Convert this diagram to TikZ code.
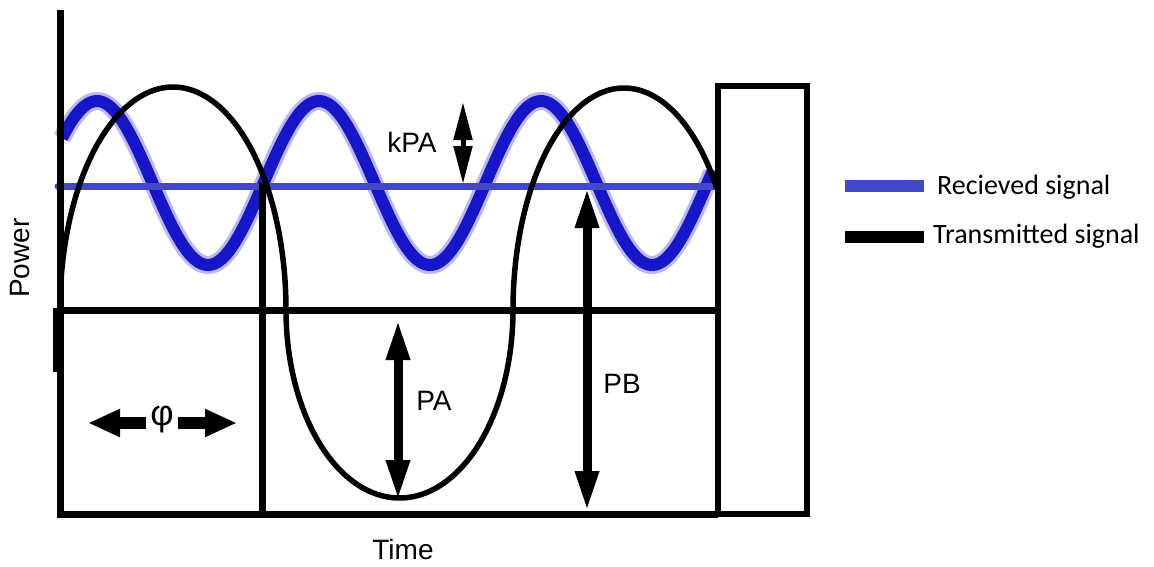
\documentclass[tikz,border=0pt]{standalone}
\usepackage{fontspec}
\setmainfont{Liberation Sans}
\newfontfamily\legendfont{Carlito}
\usetikzlibrary{arrows.meta}
\definecolor{sigblue}{RGB}{22,22,200}
\definecolor{lineblue}{RGB}{66,72,200}
\begin{document}
\begin{tikzpicture}[x=1pt,y=-1pt,
  frame/.style={line width=7pt},
  curve/.style={line width=5.5pt, line join=round},
  lbl/.style={font=\fontsize{28}{28}\selectfont, inner sep=0pt},
  legtext/.style={font=\legendfont\fontsize{28}{28}\selectfont, inner sep=0pt, anchor=west},
  bigarrow/.style={line width=9pt, {Triangle[length=40pt,width=22pt]}-{Triangle[length=40pt,width=22pt]}},
  smallarrow/.style={line width=5pt, {Triangle[length=38pt,width=18pt]}-{Triangle[length=38pt,width=18pt]}},
  phiarrow/.style={line width=12pt, -{Triangle[length=32pt,width=26pt]}}]
\useasboundingbox (0,0) rectangle (1154,566);

% received signal (blue sine)
\draw[sigblue, opacity=0.3, line width=18pt] plot[domain=62:712, samples=250] (\x,{183-82*cos(1.62162*(\x-97))});
\draw[sigblue, line width=12pt] plot[domain=62:713, samples=250] (\x,{183-82*cos(1.62162*(\x-97))});
% mean line
\draw[lineblue, line width=7pt, line cap=round] (58,186) -- (716,186);

% frame
\draw[frame] (60,10) -- (60,517);
\draw[frame] (57,514) -- (718,514);
\draw[frame] (60,310) -- (718,310);
\draw[frame] (262,183) -- (262,514);
\draw[line width=4pt] (55,308) -- (55,372);

% transmitted signal (black): elliptic arcs centred on the line y=310
\draw[curve] plot[domain=180:0, samples=120] ({173+113*cos(\x)},{310-223*sin(\x)})
  -- plot[domain=180:360, samples=120] ({399.5+113.5*cos(\x)},{310-188*sin(\x)})
  -- plot[domain=180:33, samples=120] ({624+111*cos(\x)},{310-222*sin(\x)});

% right box
\draw[line width=6pt] (718,86) rectangle (807,514);

% arrows
\coordinate (kpaT) at (463,102);
\coordinate (kpaB) at (463,184);
\coordinate (paT) at (398,320);
\coordinate (paB) at (398,500);
\coordinate (pbT) at (587,188);
\coordinate (pbB) at (587,511);
\coordinate (phiL0) at (146,423);
\coordinate (phiL) at (88,423);
\coordinate (phiR0) at (178,423);
\coordinate (phiR) at (237,423);
\draw[smallarrow] (kpaT) -- (kpaB);
\draw[bigarrow] (paT) -- (paB);
\draw[bigarrow] (pbT) -- (pbB);
\draw[phiarrow] (phiL0) -- (phiL);
\draw[phiarrow] (phiR0) -- (phiR);

% labels
\node[lbl] (kpa) at (412,142) {kPA};
\node[lbl] (pa) at (434,401) {PA};
\node[lbl] (pb) at (622,384) {PB};
\node[lbl, font=\fontsize{36}{36}\selectfont] (phi) at (162,420) {φ};
\node[lbl, rotate=90] (power) at (20,258) {Power};
\node[lbl] (time) at (403,549) {Time};

% legend
\coordinate (lbA) at (845,186);
\coordinate (lbB) at (924,186);
\coordinate (ltA) at (845,237);
\coordinate (ltB) at (924,237);
\draw[lineblue, line width=12pt] (lbA) -- (lbB);
\draw[black, line width=12pt] (ltA) -- (ltB);
\node[legtext] (rs) at (937,187) {Recieved signal};
\node[legtext] (ts) at (933,236) {Transmitted signal};
\end{tikzpicture}
\end{document}
